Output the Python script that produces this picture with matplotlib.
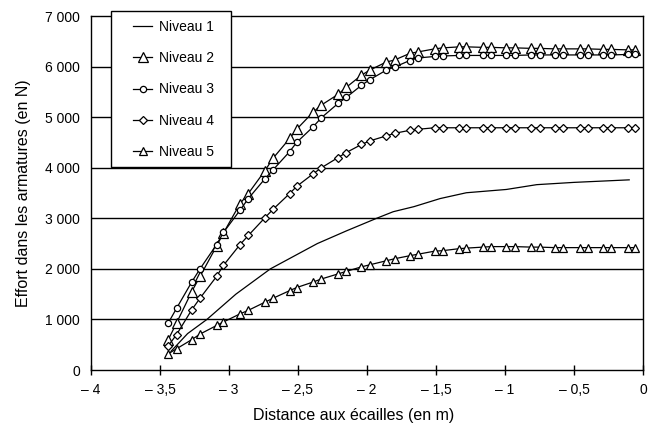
import matplotlib
matplotlib.use("Agg")
import matplotlib.pyplot as plt
from matplotlib.ticker import FixedLocator
from matplotlib.patches import Rectangle

plt.rcParams['font.family'] = ['Liberation Sans', 'DejaVu Sans']

# Common abscissae of the marked series (m)
x_pts = [-3.44, -3.38, -3.27, -3.21, -3.09, -3.04, -2.92, -2.86, -2.74, -2.68,
         -2.56, -2.51, -2.39, -2.33, -2.21, -2.15, -2.04, -1.98, -1.86, -1.80,
         -1.69, -1.63, -1.51, -1.45, -1.33, -1.28, -1.16, -1.10, -0.99, -0.93,
         -0.81, -0.75, -0.64, -0.58, -0.46, -0.40, -0.29, -0.23, -0.11, -0.06]

# Niveau 1 (plain line)
n1_x = [-3.42, -3.30, -3.16, -2.95, -2.70, -2.36, -2.15, -1.93, -1.81, -1.66,
        -1.47, -1.28, -0.99, -0.77, -0.50, -0.10]
n1_y = [370, 720, 1000, 1500, 2000, 2500, 2750, 3000, 3130, 3230,
        3390, 3505, 3570, 3665, 3710, 3760]

niveau2 = [600, 930, 1550, 1850, 2450, 2710, 3290, 3490, 3940, 4190,
           4580, 4760, 5100, 5240, 5450, 5590, 5830, 5930, 6090, 6130,
           6260, 6290, 6350, 6370, 6390, 6390, 6380, 6380, 6370, 6370,
           6360, 6360, 6350, 6350, 6350, 6350, 6340, 6340, 6330, 6330]

niveau3 = [930, 1220, 1740, 2000, 2480, 2720, 3160, 3390, 3780, 3960,
           4320, 4500, 4810, 4990, 5270, 5390, 5630, 5740, 5930, 5990,
           6120, 6170, 6200, 6210, 6220, 6220, 6220, 6220, 6220, 6220,
           6230, 6230, 6230, 6230, 6230, 6230, 6230, 6230, 6240, 6240]

niveau4 = [480, 700, 1190, 1420, 1850, 2070, 2480, 2660, 3010, 3180,
           3490, 3630, 3880, 4000, 4200, 4300, 4460, 4530, 4630, 4680,
           4740, 4760, 4790, 4790, 4790, 4790, 4790, 4790, 4790, 4790,
           4790, 4790, 4790, 4790, 4790, 4790, 4790, 4790, 4790, 4790]

niveau5 = [320, 420, 600, 710, 880, 950, 1110, 1180, 1340, 1420,
           1570, 1630, 1740, 1800, 1900, 1950, 2040, 2080, 2160, 2200,
           2260, 2290, 2350, 2360, 2400, 2410, 2430, 2440, 2440, 2440,
           2430, 2430, 2420, 2420, 2420, 2420, 2420, 2420, 2420, 2420]

x_ticks = [-4, -3.5, -3, -2.5, -2, -1.5, -1, -0.5, 0]
x_labels = ['– 4', '– 3,5', '– 3', '– 2,5', '– 2', '– 1,5', '– 1', '– 0,5', '0']
y_ticks = [0, 1000, 2000, 3000, 4000, 5000, 6000, 7000]
y_labels = ['0', '1 000', '2 000', '3 000', '4 000', '5 000', '6 000', '7 000']

W, H = 656, 426
fig = plt.figure(figsize=(W / 100, H / 100), dpi=100)
ax = fig.add_axes([91 / W, 56 / H, 552 / W, 354 / H])

for y in y_ticks[1:-1]:
    ax.axhline(y, color='black', lw=1.0, zorder=1)

kw = dict(color='black', lw=0.9, mfc='white', mec='black', mew=0.9, zorder=3)
ax.plot(n1_x, n1_y, '-', color='black', lw=0.9, label='Niveau 1', zorder=3)
ax.plot(x_pts, niveau2, '-^', ms=6.5, label='Niveau 2', **kw)
ax.plot(x_pts, niveau3, '-o', ms=4.5, label='Niveau 3', **kw)
ax.plot(x_pts, niveau4, '-D', ms=4.5, label='Niveau 4', **kw)
ax.plot(x_pts, niveau5, '-^', ms=5.5, label='Niveau 5', **kw)

ax.set_xlim(-4, 0)
ax.set_ylim(0, 7000)
ax.xaxis.set_major_locator(FixedLocator(x_ticks))
ax.set_xticklabels(x_labels, fontsize=10)
ax.yaxis.set_major_locator(FixedLocator(y_ticks))
ax.set_yticklabels(y_labels, fontsize=10)
ax.tick_params(axis='x', direction='inout', length=7, width=1, pad=6)
ax.tick_params(axis='y', length=0, pad=8)
for s in ax.spines.values():
    s.set_linewidth(1.0)
    s.set_color('black')

ax.set_xlabel('Distance aux écailles (en m)', fontsize=11.5)
ax.xaxis.set_label_coords((354 - 91) / 552, -38 / 354)
ax.set_ylabel('Effort dans les armatures (en N)', fontsize=11.5, labelpad=10)

# legend box (drawn as a rectangle overlapping the top of the frame)
box = Rectangle((111 / W, (H - 167) / H), 120 / W, 156 / H,
                transform=fig.transFigure, facecolor='white',
                edgecolor='black', lw=1.0, zorder=10)
fig.add_artist(box)

leg = fig.legend(*ax.get_legend_handles_labels(), loc='upper left',
                 bbox_to_anchor=(133 / W, (H - 20) / H),
                 frameon=False, fontsize=10, handlelength=1.4,
                 labelspacing=1.24, borderpad=0, handletextpad=0.5,
                 borderaxespad=0)
leg.set_zorder(11)

fig.savefig('out.png', dpi=100)
